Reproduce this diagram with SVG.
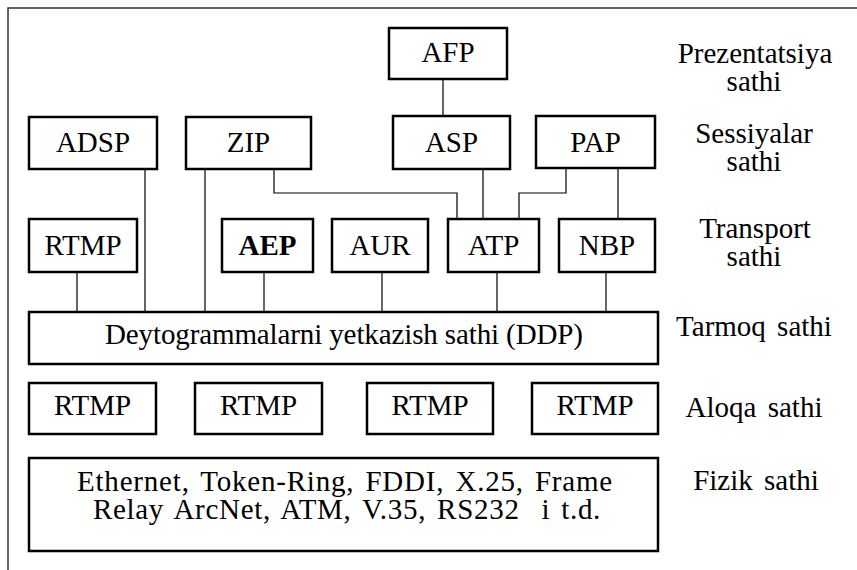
<svg xmlns="http://www.w3.org/2000/svg" width="857" height="570" viewBox="0 0 857 570">
<style>
.box{fill:#fff;stroke:#000;stroke-width:2.5}
.t{font-family:'Liberation Serif',serif;font-size:29px;fill:#000;text-anchor:middle}
.w{word-spacing:4px}
.b{font-weight:bold}
.c{fill:none;stroke:#000;stroke-width:1.2}
.frame{fill:none;stroke:#333;stroke-width:1.5}
</style>
<rect width="857" height="570" fill="#fff"/>
<rect class="frame" x="8" y="8" width="900" height="620"/>
<g id="connectors">
<line class="c" x1="443" y1="79" x2="443" y2="116"/>
<line class="c" x1="145" y1="169" x2="145" y2="312"/>
<line class="c" x1="205" y1="169" x2="205" y2="312"/>
<polyline class="c" points="274,169 274,193 457,193 457,219"/>
<line class="c" x1="483" y1="169" x2="483" y2="219"/>
<polyline class="c" points="566,168 566,193 519,193 519,219"/>
<line class="c" x1="618" y1="168" x2="618" y2="219"/>
<line class="c" x1="77" y1="272" x2="77" y2="312"/>
<line class="c" x1="264" y1="272" x2="264" y2="312"/>
<line class="c" x1="382" y1="272" x2="382" y2="312"/>
<line class="c" x1="497" y1="272" x2="497" y2="312"/>
<line class="c" x1="606" y1="272" x2="606" y2="312"/>
</g>
<g id="AFP"><rect class="box" x="389" y="28" width="118" height="51"/><text class="t" x="448" y="62">AFP</text></g>
<g id="ADSP"><rect class="box" x="29" y="117" width="128" height="52"/><text class="t" x="93" y="152">ADSP</text></g>
<g id="ZIP"><rect class="box" x="186" y="117" width="125" height="52"/><text class="t" x="248.5" y="152">ZIP</text></g>
<g id="ASP"><rect class="box" x="393" y="116" width="117" height="53"/><text class="t" x="451.5" y="152">ASP</text></g>
<g id="PAP"><rect class="box" x="536" y="116" width="119" height="52"/><text class="t" x="595.5" y="152">PAP</text></g>
<g id="RTMP-T"><rect class="box" x="29" y="219" width="108" height="53"/><text class="t" x="83" y="255">RTMP</text></g>
<g id="AEP"><rect class="box" x="222" y="219" width="91" height="53"/><text class="t b" x="267.5" y="255">AEP</text></g>
<g id="AUR"><rect class="box" x="332" y="219" width="96" height="53"/><text class="t" x="380" y="255">AUR</text></g>
<g id="ATP"><rect class="box" x="448" y="219" width="91" height="53"/><text class="t" x="493.5" y="255">ATP</text></g>
<g id="NBP"><rect class="box" x="559" y="219" width="96" height="53"/><text class="t" x="607" y="255">NBP</text></g>
<g id="DDP"><rect class="box" x="29" y="312" width="629" height="52"/><text class="t" x="344" y="344" textLength="478" lengthAdjust="spacing">Deytogrammalarni yetkazish sathi (DDP)</text></g>
<g id="RTMP-1"><rect class="box" x="29" y="383" width="127" height="51"/><text class="t" x="92.5" y="415">RTMP</text></g>
<g id="RTMP-2"><rect class="box" x="195" y="383" width="127" height="51"/><text class="t" x="258.5" y="415">RTMP</text></g>
<g id="RTMP-3"><rect class="box" x="367" y="383" width="126" height="51"/><text class="t" x="430" y="415">RTMP</text></g>
<g id="RTMP-4"><rect class="box" x="532" y="383" width="126" height="51"/><text class="t" x="595" y="415">RTMP</text></g>
<g id="Fizik"><rect class="box" x="29" y="458" width="629" height="93"/>
<text class="t" xml:space="preserve" word-spacing="3"><tspan x="345" y="491" letter-spacing="0.8">Ethernet, Token-Ring, FDDI, X.25, Frame</tspan><tspan x="347" y="519" letter-spacing="0.7">Relay ArcNet, ATM, V.35, RS232  i t.d.</tspan></text>
</g>
<g id="labels">
<text class="t"><tspan x="755" y="63">Prezentatsiya</tspan><tspan x="754" y="91">sathi</tspan></text>
<text class="t"><tspan x="754" y="143">Sessiyalar</tspan><tspan x="754" y="171">sathi</tspan></text>
<text class="t"><tspan x="755" y="238">Transport</tspan><tspan x="754" y="266">sathi</tspan></text>
<text class="t w" x="754" y="336">Tarmoq sathi</text>
<text class="t w" x="754" y="417">Aloqa sathi</text>
<text class="t w" x="756" y="490">Fizik sathi</text>
</g>
</svg>
